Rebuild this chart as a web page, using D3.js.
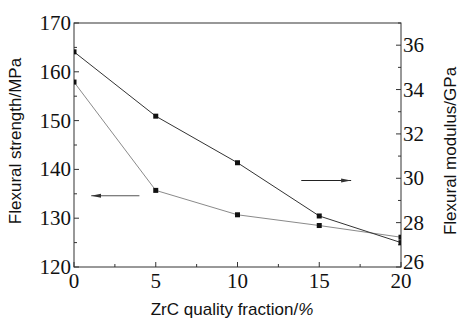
<!DOCTYPE html>
<html><head><meta charset="utf-8">
<script src="https://cdn.jsdelivr.net/npm/d3@7"></script>
<style>body{margin:0;background:#fff}</style>
</head><body>
<svg id="c" width="460" height="321"></svg>
<script>
const fractions = [0, 5, 10, 15, 20];
const strength = [157.9, 135.7, 130.7, 128.5, 126.1];   // left axis, MPa
const modulus = [35.7, 32.8, 30.7, 28.3, 27.1];        // right axis, GPa
const xTicks = [0, 5, 10, 15, 20];
const leftTicks = [120, 130, 140, 150, 160, 170];
const rightTicks = [26, 28, 30, 32, 34, 36];

const svg = d3.select("#c");
const m = {l: 74, r: 401, t: 23, b: 267};
const x = d3.scaleLinear().domain([0, 20]).range([m.l, m.r]);
const yL = d3.scaleLinear().domain([120, 170]).range([m.b, m.t]);
const yR = d3.scaleLinear().domain([26, 37]).range([m.b, m.t]);
const axisCol = "#333";
const serif = "'Liberation Serif','Times New Roman',serif";
const sans = "'Liberation Sans',Arial,sans-serif";

svg.append("defs").append("clipPath").attr("id","pc")
  .append("rect").attr("x",m.l).attr("y",m.t).attr("width",m.r-m.l).attr("height",m.b-m.t);

svg.append("rect").attr("x",m.l).attr("y",m.t).attr("width",m.r-m.l).attr("height",m.b-m.t)
  .attr("fill","none").attr("stroke",axisCol).attr("stroke-width",1);

const tg = svg.append("g").attr("stroke",axisCol).attr("stroke-width",1);
d3.range(0, 20.01, 2.5).forEach(v=>{
  const len = (v % 5 === 0) ? 5 : 3;
  tg.append("line").attr("x1",x(v)).attr("x2",x(v)).attr("y1",m.b).attr("y2",m.b-len);
});
d3.range(120, 170.01, 5).forEach(v=>{
  const len = (v % 10 === 0) ? 5 : 3;
  tg.append("line").attr("x1",m.l).attr("x2",m.l+len).attr("y1",yL(v)).attr("y2",yL(v));
});
d3.range(26, 37.01, 1).forEach(v=>{
  const len = (v % 2 === 0) ? 5 : 3;
  tg.append("line").attr("x1",m.r).attr("x2",m.r-len).attr("y1",yR(v)).attr("y2",yR(v));
});

svg.append("g").selectAll("text").data(xTicks).join("text")
  .attr("x",d=>x(d)).attr("y",m.b+21).attr("text-anchor","middle")
  .attr("font-family",serif).attr("font-size",21).attr("fill","#111").text(d=>d);
svg.append("g").selectAll("text").data(leftTicks).join("text")
  .attr("x",m.l-3).attr("y",d=>yL(d)+7).attr("text-anchor","end")
  .attr("font-family",serif).attr("font-size",21).attr("fill","#111").text(d=>d);
svg.append("g").selectAll("text").data(rightTicks).join("text")
  .attr("x",m.r+2).attr("y",d=>yR(d)+(d===26?2:7)).attr("text-anchor","start")
  .attr("font-family",serif).attr("font-size",21).attr("fill","#111").text(d=>d);

svg.append("text").attr("transform","translate(21,141) rotate(-90)").attr("text-anchor","middle")
  .attr("font-family",sans).attr("font-size",17).attr("fill","#111").text("Flexural strength/MPa");
svg.append("text").attr("transform","translate(456,151) rotate(-90)").attr("text-anchor","middle")
  .attr("font-family",sans).attr("font-size",17).attr("fill","#111").text("Flexural modulus/GPa");
const xt = svg.append("text").attr("x",232).attr("y",315).attr("text-anchor","middle")
  .attr("font-family",sans).attr("font-size",17).attr("fill","#111");
xt.append("tspan").text("ZrC quality fraction/");
xt.append("tspan").attr("font-style","italic").text("%");

const plot = svg.append("g").attr("clip-path","url(#pc)");
const sData = fractions.map((f,i)=>({x:f,y:strength[i]}));
const mData = fractions.map((f,i)=>({x:f,y:modulus[i]}));
plot.append("path").datum(sData).attr("fill","none").attr("stroke","#8a8a8a").attr("stroke-width",1)
  .attr("d", d3.line().x(d=>x(d.x)).y(d=>yL(d.y)));
plot.append("path").datum(mData).attr("fill","none").attr("stroke","#333").attr("stroke-width",1)
  .attr("d", d3.line().x(d=>x(d.x)).y(d=>yR(d.y)));
const sq = 5;
plot.selectAll(".ms").data(sData).join("rect")
  .attr("x",d=>x(d.x)-sq/2).attr("y",d=>yL(d.y)-sq/2).attr("width",sq).attr("height",sq).attr("fill","#111");
plot.selectAll(".mm").data(mData).join("rect")
  .attr("x",d=>x(d.x)-sq/2).attr("y",d=>yR(d.y)-sq/2).attr("width",sq).attr("height",sq).attr("fill","#111");

const defs = svg.select("defs");
defs.append("marker").attr("id","ah").attr("viewBox","0 0 10 6").attr("refX",10).attr("refY",3)
  .attr("markerWidth",10).attr("markerHeight",6).attr("markerUnits","userSpaceOnUse").attr("orient","auto")
  .append("path").attr("d","M0,1 L10,3 L0,5 Z").attr("fill","#333");
svg.append("line").attr("x1",x(4.0)).attr("x2",x(1.05)).attr("y1",yL(134.6)).attr("y2",yL(134.6))
  .attr("stroke","#555").attr("stroke-width",1.2).attr("marker-end","url(#ah)");
svg.append("line").attr("x1",x(13.9)).attr("x2",x(16.95)).attr("y1",yR(29.9)).attr("y2",yR(29.9))
  .attr("stroke","#222").attr("stroke-width",1.2).attr("marker-end","url(#ah)");
</script>
</body></html>
